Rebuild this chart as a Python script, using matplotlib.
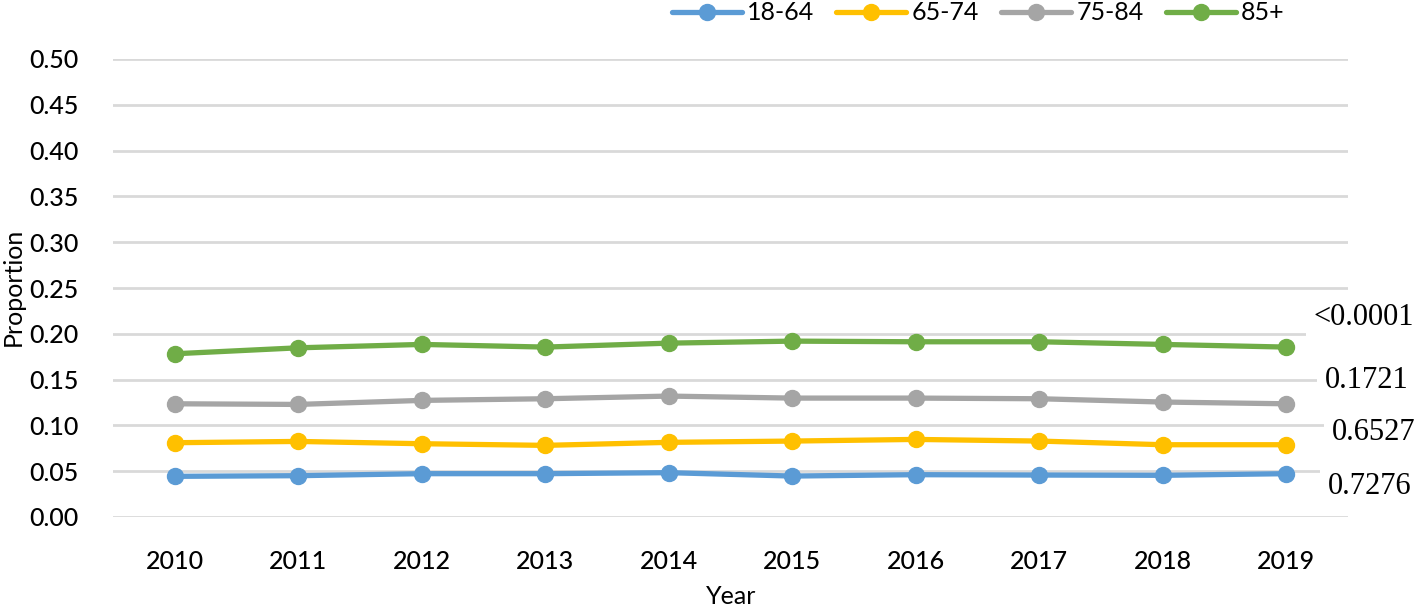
import matplotlib
matplotlib.use("Agg")
import matplotlib.pyplot as plt

years = ["2010", "2011", "2012", "2013", "2014", "2015", "2016", "2017", "2018", "2019"]
age_18_64 = [0.0444, 0.0451, 0.0473, 0.0473, 0.0484, 0.0447, 0.0462, 0.0458, 0.0455, 0.0473]
age_65_74 = [0.0811, 0.0825, 0.0800, 0.0782, 0.0815, 0.0829, 0.0847, 0.0829, 0.0789, 0.0789]
age_75_84 = [0.1236, 0.1229, 0.1273, 0.1291, 0.1320, 0.1298, 0.1298, 0.1291, 0.1255, 0.1236]
age_85p = [0.1782, 0.1847, 0.1884, 0.1855, 0.1898, 0.1920, 0.1913, 0.1913, 0.1884, 0.1855]
series_names = ["18-64", "65-74", "75-84", "85+"]
p_values = ["0.7276", "0.6527", "0.1721", "<0.0001"]
yticks = [0.00, 0.05, 0.10, 0.15, 0.20, 0.25, 0.30, 0.35, 0.40, 0.45, 0.50]

colors = ["#5B9BD5", "#FFC000", "#A5A5A5", "#70AD47"]
W, H = 1417, 608
fig = plt.figure(figsize=(W / 100, H / 100), dpi=100)
ax = fig.add_axes([113 / W, 1 - 517 / H, (1348 - 113) / W, (517 - 59) / H])

x = list(range(len(years)))
for vals, name, c in zip([age_18_64, age_65_74, age_75_84, age_85p], series_names, colors):
    ax.plot(x, vals, color=c, lw=3.8, marker="o", ms=11.5, label=name, solid_capstyle="round", zorder=3)

ax.set_xlim(-0.5, len(years) - 0.5)
ax.set_ylim(0, 0.5)
ax.set_yticks(yticks)
ax.set_yticklabels([f"{v:.2f}" for v in yticks])
ax.set_xticks(x)
ax.set_xticklabels(years)
ax.grid(axis="y", color="#D9D9D9", lw=2, zorder=0)
ax.set_axisbelow(True)
for s in ax.spines.values():
    s.set_visible(False)
ax.tick_params(axis="both", length=0, labelsize=18, colors="black")
ax.tick_params(axis="x", pad=24)
ax.tick_params(axis="y", pad=25)
for lab in ax.get_xticklabels() + ax.get_yticklabels():
    lab.set_family("Lato")
    lab.set_fontweight("medium")

fig.text(731 / W, 1 - 596 / H, "Year", ha="center", va="center", fontsize=18, family="Lato")
fig.text(13 / W, 1 - 287 / H, "Proportion", ha="center", va="center", rotation=90,
         fontsize=18, family="Lato")

fig.legend(loc="center", bbox_to_anchor=(978 / W, 1 - 13 / H), ncol=4, frameon=False,
           prop={"family": "Lato", "size": 18}, handlelength=2.8, handletextpad=0.2,
           columnspacing=0.9)

label_pos = [(1370, 487), (1374, 432), (1367, 380), (1364, 317)]
for txt, (px, py) in zip(p_values, label_pos):
    fig.text(px / W, 1 - py / H, txt, ha="center", va="center", fontsize=22,
             family="Liberation Serif",
             bbox=dict(facecolor="white", edgecolor="none", pad=6))

fig.savefig("out.png", dpi=100)
